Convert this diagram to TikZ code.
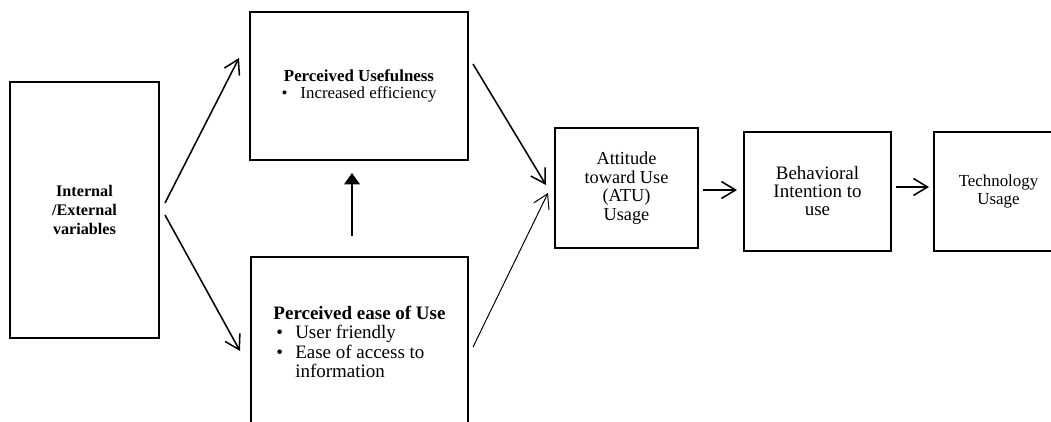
\documentclass[tikz,border=0pt]{standalone}
\usepackage{fontspec}
\setmainfont{Liberation Serif}
\usetikzlibrary{arrows.meta, positioning, calc}
\newcommand{\bul}{\makebox[13.5pt][l]{\textbullet}}

\begin{document}
\begin{tikzpicture}[x=0.025cm, y=-0.025cm, >={Straight Barb[length=10pt,width=12pt]},
        box/.style={draw, line width=1.4pt, align=center, inner sep=0pt},
        arr/.style={->, line width=1.1pt},
        thin/.style={->, line width=0.7pt}]
        \useasboundingbox (0,0) rectangle (1051,421);
        \node[box, minimum width=3.725cm, minimum height=6.4cm, font=\fontsize{11.5}{13.5}\selectfont\bfseries] (iev) at (84.5,210) {Internal\\/External\\variables};
        \node[box, minimum width=5.45cm, minimum height=3.7cm, font=\fontsize{12}{12.5}\selectfont] (pu) at (359,86)
            {\textbf{Perceived Usefulness}\\\bul Increased efficiency};
        \node[box, minimum width=5.425cm, minimum height=4.25cm, align=left, font=\fontsize{13.5}{13.8}\selectfont] (peu) at (359.5,342)
            {\textbf{Perceived ease of Use}\\\hspace{2pt}\bul User friendly\\\hspace{2pt}\bul Ease of access to\\\hspace{15.5pt}information};
        \node[box, minimum width=3.575cm, minimum height=3cm, font=\fontsize{13}{13.2}\selectfont] (atu) at (626.5,188) {Attitude\\toward Use\\(ATU)\\Usage};
        \node[box, minimum width=3.675cm, minimum height=2.975cm, font=\fontsize{13.5}{12.8}\selectfont] (bi) at (817.5,191.5) {Behavioral\\Intention to\\use};
        \node[box, minimum width=3.225cm, minimum height=2.975cm, font=\fontsize{12}{12.8}\selectfont] (tu) at (998.5,191.5) {Technology\\Usage};
        % links
        \draw[arr] ([shift={(5,-7)}]iev.east) -- ([shift={(-10,-28)}]pu.west);
        \draw[arr] ([shift={(5,5)}]iev.east) -- ([shift={(-10,95)}]peu.north west);
        \draw[line width=1.1pt, -{Triangle[length=8pt,width=11pt]}] ([shift={(-7.5,-20)}]peu.north) -- ([shift={(-7,12)}]pu.south);
        \draw[arr] ([shift={(4,-22)}]pu.east) -- ([shift={(-8,-3)}]atu.west);
        \draw[thin] ([shift={(4,91)}]peu.north east) -- ([shift={(-6,5)}]atu.west);
        \draw[arr] ([shift={(4,2)}]atu.east) -- ([shift={(-6,-1.5)}]bi.west);
        \draw[arr] ([shift={(4,-4.5)}]bi.east) -- ([shift={(-4,-4.5)}]tu.west);
    \end{tikzpicture}
\end{document}
